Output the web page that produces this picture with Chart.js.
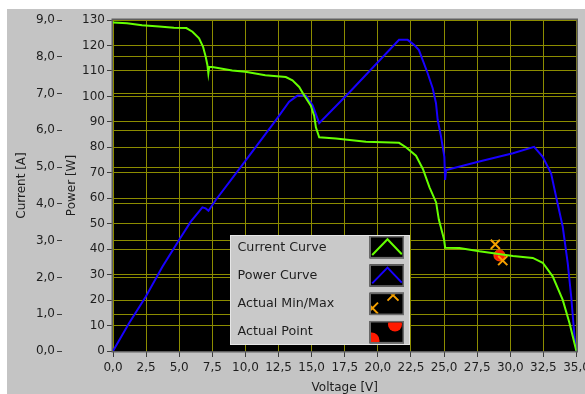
<!DOCTYPE html>
<html>
<head>
<meta charset="utf-8">
<script src="https://cdn.jsdelivr.net/npm/chart.js@4/dist/chart.umd.min.js"></script>
<style>
  html, body { margin: 0; padding: 0; background: #ffffff; overflow: hidden; }
  #wrap { width: 585px; height: 394px; }
</style>
</head>
<body>
<div id="wrap"><canvas id="iv" width="585" height="394"></canvas></div>
<script>
// I-V characteristic of the string (voltage in V, current in A)
const currentVoltage = [0, 1.06, 2.19, 3.48, 4.6, 5.54, 6.0, 6.5, 6.8, 7.0, 7.13, 7.2, 7.26, 7.5, 9.0, 10.0, 11.5,
  13.05, 13.55, 14.06, 14.44, 14.94, 15.19, 15.32, 15.57, 16.83, 19.1, 21.6, 22.12, 22.88, 23.4, 23.9, 24.4,
  24.6, 25.0, 25.08, 26.15, 27.66, 30.2, 31.7, 32.45, 33.2, 33.96, 34.47, 34.97, 35.0];
const currentAmps = [8.93, 8.91, 8.86, 8.82, 8.79, 8.78, 8.68, 8.50, 8.27, 8.0, 7.77, 7.55, 7.72, 7.72, 7.63, 7.59, 7.50,
  7.45, 7.36, 7.18, 6.95, 6.67, 6.40, 6.08, 5.81, 5.78, 5.69, 5.66, 5.54, 5.31, 4.95, 4.45, 4.04,
  3.58, 3.03, 2.81, 2.80, 2.71, 2.58, 2.53, 2.40, 2.03, 1.39, 0.76, 0.03, 0];

// P-V characteristic (voltage in V, power in W)
const powerVoltage = [0, 1.21, 2.47, 3.73, 4.99, 5.87, 6.75, 7.0, 7.21, 7.76, 9.77, 12.3, 13.3, 13.93, 14.56, 15.07,
  15.32, 15.57, 17.84, 21.6, 22.25, 22.75, 23.1, 23.38, 23.76, 24.14, 24.39, 24.52, 24.77, 25.02, 25.08, 25.15,
  27.66, 30.2, 31.8, 32.45, 33.08, 33.46, 33.96, 34.34, 34.6, 34.85, 35.0];
const powerWatts = [0, 10.9, 21.3, 33.1, 43.6, 50.8, 56.4, 56.0, 55.1, 59.3, 73.1, 90.7, 97.9, 100.3, 100.3, 96.5,
  93.0, 89.5, 101.5, 122.2, 122.2, 120.2, 118.2, 114.3, 109.1, 103.2, 97.3, 90.7, 84.2, 76.3, 67.2, 71.1,
  74.4, 77.7, 80.2, 76.3, 69.8, 60.6, 48.8, 34.4, 21.3, 5.6, 0];

// Tracked operating window and the present operating point
const minMaxVoltage = [28.87, 29.43];
const minMaxAmps = [2.90, 2.46];
const pointVoltage = [29.18];
const pointAmps = [2.60];

const seriesNames = ['Current Curve', 'Power Curve', 'Actual Min/Max', 'Actual Point'];

const pairs = (xs, ys) => xs.map((x, i) => ({ x: x, y: ys[i] }));
const comma1 = v => Number(v).toFixed(1).replace('.', ',');

const GRID = 'rgb(140,140,0)';
const TICK = '#3c3c3c';
const TEXT = '#1e1e1e';
const PANEL = '#c4c4c4';

Chart.defaults.font.family = "'DejaVu Sans', sans-serif";
Chart.defaults.color = TEXT;

// Panel, plot background and frame
const panelPlugin = {
  id: 'panel',
  beforeDraw(chart) {
    const ctx = chart.ctx, a = chart.chartArea;
    ctx.save();
    ctx.fillStyle = '#ffffff';
    ctx.fillRect(0, 0, chart.width, chart.height);
    ctx.fillStyle = PANEL;
    ctx.fillRect(7, 9, chart.width - 7, chart.height - 9);
    ctx.fillStyle = '#000000';
    ctx.fillRect(a.left, a.top, a.right - a.left, a.bottom - a.top);
    ctx.restore();
  },
  beforeDatasetsDraw(chart) {
    const ctx = chart.ctx, a = chart.chartArea;
    ctx.save();
    ctx.strokeStyle = '#5e5e5e';
    ctx.lineWidth = 1.5;
    ctx.strokeRect(a.left - 0.75, a.top - 0.75, a.right - a.left + 1.5, a.bottom - a.top + 1.5);
    ctx.restore();
  }
};

// Legend box with a text column and small black swatches
const swatchLegend = {
  id: 'swatchLegend',
  afterDraw(chart) {
    const ctx = chart.ctx;
    const box = { x: 230, y: 235, w: 180, h: 110 };
    const rowH = 28.33, firstRow = 247.2;
    ctx.save();
    ctx.fillStyle = '#c9c9c9';
    ctx.fillRect(box.x, box.y, box.w, box.h);
    ctx.strokeStyle = '#e6e6e6';
    ctx.lineWidth = 1;
    ctx.strokeRect(box.x + 0.5, box.y + 0.5, box.w - 1, box.h - 1);

    ctx.font = "12.7px 'DejaVu Sans', sans-serif";
    ctx.fillStyle = TEXT;
    ctx.textBaseline = 'middle';
    ctx.textAlign = 'left';

    const ds = chart.data.datasets;
    seriesNames.forEach((name, i) => {
      const cy = firstRow + i * rowH;
      ctx.fillStyle = TEXT;
      ctx.fillText(name, 237.5, cy);

      const sx = 369.5, sy = cy - 11.2, sw = 34.5, sh = 22.4;
      ctx.fillStyle = '#000000';
      ctx.fillRect(sx, sy, sw, sh);
      ctx.strokeStyle = '#6a6a6a';
      ctx.lineWidth = 1.5;
      ctx.strokeRect(sx + 0.75, sy + 0.75, sw - 1.5, sh - 1.5);

      ctx.save();
      ctx.beginPath();
      ctx.rect(sx + 1.5, sy + 1.5, sw - 3, sh - 3);
      ctx.clip();
      const d = ds[i];
      if (d.showLine) {
        ctx.strokeStyle = d.borderColor;
        ctx.lineWidth = 2;
        ctx.beginPath();
        ctx.moveTo(sx + 2.7, sy + 19);
        ctx.lineTo(sx + 18, sy + 3.3);
        ctx.lineTo(sx + 32.3, sy + 18.3);
        ctx.stroke();
      } else if (d.pointStyle === 'crossRot') {
        ctx.strokeStyle = d.borderColor;
        ctx.lineWidth = 2;
        [[sx + 3, sy + 15.5], [sx + 23.5, sy + 2.5]].forEach(([px, py]) => {
          ctx.beginPath();
          ctx.moveTo(px - 5.5, py - 5.5); ctx.lineTo(px + 5.5, py + 5.5);
          ctx.moveTo(px - 5.5, py + 5.5); ctx.lineTo(px + 5.5, py - 5.5);
          ctx.stroke();
        });
      } else {
        ctx.fillStyle = d.backgroundColor;
        [[sx + 2, sy + 19.5, 8], [sx + 25.5, sy + 3.5, 7]].forEach(([px, py, r]) => {
          ctx.beginPath();
          ctx.arc(px, py, r, 0, Math.PI * 2);
          ctx.fill();
        });
      }
      ctx.restore();
    });
    ctx.restore();
  }
};

new Chart(document.getElementById('iv'), {
  type: 'scatter',
  data: {
    datasets: [
      {
        label: seriesNames[0],
        data: pairs(currentVoltage, currentAmps),
        yAxisID: 'current',
        showLine: true,
        borderColor: '#66ff00',
        borderWidth: 2,
        pointRadius: 0,
        tension: 0,
        order: 1
      },
      {
        label: seriesNames[1],
        data: pairs(powerVoltage, powerWatts),
        yAxisID: 'power',
        showLine: true,
        borderColor: '#1800ff',
        borderWidth: 2,
        pointRadius: 0,
        tension: 0,
        order: 3
      },
      {
        label: seriesNames[2],
        data: pairs(minMaxVoltage, minMaxAmps),
        yAxisID: 'current',
        showLine: false,
        pointStyle: 'crossRot',
        pointRadius: 6.5,
        borderColor: '#f5a000',
        backgroundColor: '#f5a000',
        pointBorderWidth: 2,
        order: 0
      },
      {
        label: seriesNames[3],
        data: pairs(pointVoltage, pointAmps),
        yAxisID: 'current',
        showLine: false,
        pointStyle: 'circle',
        pointRadius: 5.5,
        backgroundColor: '#ff1a00',
        borderColor: '#ff4d00',
        pointBorderWidth: 1,
        order: 2
      }
    ]
  },
  options: {
    responsive: false,
    devicePixelRatio: 1,
    animation: false,
    events: [],
    layout: { padding: { left: 7, right: 7, top: 20, bottom: 0 } },
    plugins: { legend: { display: false }, tooltip: { enabled: false } },
    scales: {
      x: {
        type: 'linear',
        position: 'bottom',
        min: 0, max: 35,
        border: { display: false },
        grid: { color: GRID, lineWidth: 1, drawTicks: true, tickLength: 6, tickColor: TICK, tickWidth: 1 },
        ticks: { stepSize: 2.5, autoSkip: false, maxRotation: 0, padding: 4,
                 font: { size: 12 }, color: TEXT, callback: v => comma1(v) },
        title: { display: true, text: 'Voltage [V]', font: { size: 12, lineHeight: 1 }, color: TEXT,
                 padding: { top: 0, bottom: 0 } },
        afterFit(s) { s.height = 43; s.paddingLeft = 0; s.paddingRight = 0; }
      },
      current: {
        type: 'linear',
        position: 'left',
        weight: 1,
        min: 0, max: 9,
        border: { display: false },
        grid: { color: GRID, lineWidth: 1, drawTicks: true, tickLength: 5, tickColor: TICK, tickWidth: 1 },
        ticks: { stepSize: 1, padding: 2, font: { size: 12 }, color: TEXT, callback: v => comma1(v) },
        title: { display: true, text: 'Current [A]', font: { size: 12 }, color: TEXT,
                 padding: { top: 8, bottom: 0 } },
        afterFit(s) { s.width = 55; }
      },
      power: {
        type: 'linear',
        position: 'left',
        weight: 0,
        min: 0, max: 130,
        border: { display: false },
        grid: { color: GRID, lineWidth: 1, drawTicks: true, tickLength: 6, tickColor: TICK, tickWidth: 1 },
        ticks: { stepSize: 10, padding: 2, font: { size: 12 }, color: TEXT, callback: v => String(v) },
        title: { display: true, text: 'Power [W]', font: { size: 12 }, color: TEXT,
                 padding: { top: 3, bottom: 0 } },
        afterFit(s) { s.width = 51; }
      }
    }
  },
  plugins: [panelPlugin, swatchLegend]
});
</script>
</body>
</html>
